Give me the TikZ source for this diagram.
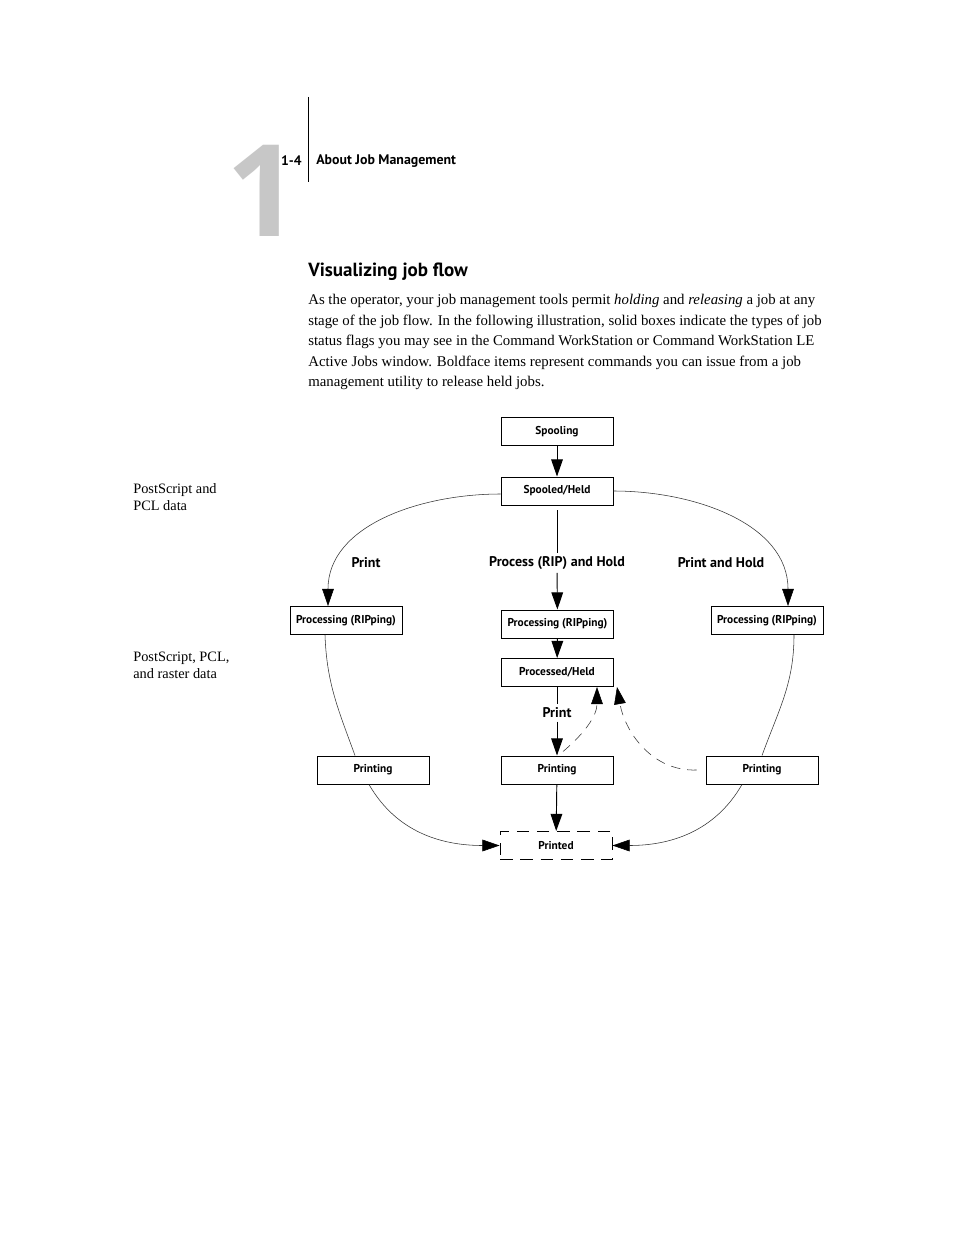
\documentclass[tikz,border=0pt]{standalone}
\usepackage{fontspec}
\setmainfont{Liberation Serif}
\newfontfamily\hsans{PT Sans}
\newfontfamily\bigsans{Open Sans}
\usetikzlibrary{arrows.meta,calc}

\begin{document}
\begin{tikzpicture}[x=0.6413pt, y=-0.6413pt,
  stat/.style={draw, line width=0.6pt, minimum width=71.8pt, minimum height=18pt, inner sep=0pt,
    font=\hsans\bfseries\fontsize{7.3}{8}\selectfont},
  cmd/.style={fill=white, inner sep=2pt, font=\hsans\bfseries\fontsize{9}{10}\selectfont},
  flow/.style={line width=0.6pt, -{Triangle[length=11pt,width=7.5pt]}},
  curv/.style={line width=0.35pt, black!80},
  arrowtip/.style={-{Triangle[length=11pt,width=7.5pt,black]}},
  back/.style={curv, dash pattern=on 6pt off 4.5pt, arrowtip}]
\fill[white] (0,0) rectangle (954,1235);  % page
\useasboundingbox (0,0) rectangle (954,1235);

% running head
\node[anchor=base east, inner sep=0pt, text=black!22, font=\bigsans\bfseries\fontsize{82}{82}\selectfont] (one) at (300,237) {1};
\coordinate (rt) at (308,97);
\coordinate (rb) at (308,182);
\draw[line width=0.6pt] (rt) -- (rb);
\node[anchor=east, inner sep=0pt, font=\hsans\bfseries\fontsize{8.8}{10}\selectfont] (pg) at (302,161) {1-4};
\node[anchor=west, inner sep=0pt, font=\hsans\bfseries\fontsize{8.9}{10}\selectfont] (run) at (316,161) {About Job Management};

% heading and text
\node[anchor=west, inner sep=0pt, font=\hsans\bfseries\fontsize{12.2}{14}\selectfont] (head) at (308,272) {Visualizing job flow};
\node[anchor=north west, align=left, inner sep=0pt, font=\fontsize{9.5}{13.15}\selectfont] (body) at (308,294)
  {As the operator, your job management tools permit \textit{holding} and \textit{releasing} a job at any\\
   stage of the job flow. In the following illustration, solid boxes indicate the types of job\\
   status flags you may see in the Command WorkStation or Command WorkStation LE\\
   Active Jobs window. Boldface items represent commands you can issue from a job\\
   management utility to release held jobs.};

% side notes
\node[anchor=north west, align=left, inner sep=0pt, font=\fontsize{9.2}{10.9}\selectfont] (ntA) at (133,483) {PostScript and\\PCL data};
\node[anchor=north west, align=left, inner sep=0pt, font=\fontsize{9.2}{10.9}\selectfont] (ntB) at (133,652) {PostScript, PCL,\\and raster data};

% status boxes
\node[stat] (spool) at (557,431.5) {Spooling};
\node[stat] (held) at (557,491) {Spooled/Held};
\node[stat] (ripL) at (346,620.5) {Processing (RIPping)};
\node[stat] (ripC) at (557.5,624) {Processing (RIPping)};
\node[stat] (ripR) at (767,620.5) {Processing (RIPping)};
\node[stat] (phld) at (557,672.5) {Processed/Held};
\node[stat] (prnL) at (373,770) {Printing};
\node[stat] (prnC) at (557,770) {Printing};
\node[stat] (prnR) at (762,770) {Printing};
\node[stat, dash pattern=on 8pt off 5pt] (done) at (556,845.5) {Printed};

% commands
\node[cmd] (cP) at (366,563) {Print};
\node[cmd] (cPH) at (557,563) {Process (RIP) and Hold};
\node[cmd] (cPR) at (721,563) {Print and Hold};
\node[cmd] (cP2) at (557,713) {Print};

% middle column
\draw[flow] (spool) -- (held);
\draw[line width=0.6pt, shorten <=3pt] (held) -- (cPH);
\draw[flow] (cPH) -- (ripC);
\draw[flow] (ripC) -- (phld);
\draw[line width=0.6pt] (phld) -- (cP2);
\draw[flow] (cP2) -- (prnC);
\draw[flow] (prnC) -- (done);

% left and right branches
\draw[curv, arrowtip] ($(held.west)+(0,3)$) to[out=180, in=90] ($(ripL.north)+(-18,0)$);
\draw[curv, arrowtip] (held.east) to[out=0, in=90] ($(ripR.north)+(21,0)$);
\draw[curv] ($(ripL.south)+(-21,0)$) to[out=-88, in=110] ($(prnL.north)+(-18,0)$);
\draw[curv] ($(ripR.south)+(27,0)$) to[out=-90, in=70] (prnR.north);
\draw[curv, arrowtip] ($(prnL.south)+(-4,0)$) to[out=-60, in=180] (done.west);
\draw[curv, arrowtip] ($(prnR.south)+(-20,0)$) to[out=-120, in=0] (done.east);

% hold again (dashed)
\draw[back] ($(prnC.north)+(6,-4)$) to[out=40, in=-90] ($(phld.south)+(40,0)$);
\draw[back] ($(prnR.west)+(-9,0)$) to[out=182, in=-80] ($(phld.south)+(60,0)$);
\end{tikzpicture}
\end{document}
